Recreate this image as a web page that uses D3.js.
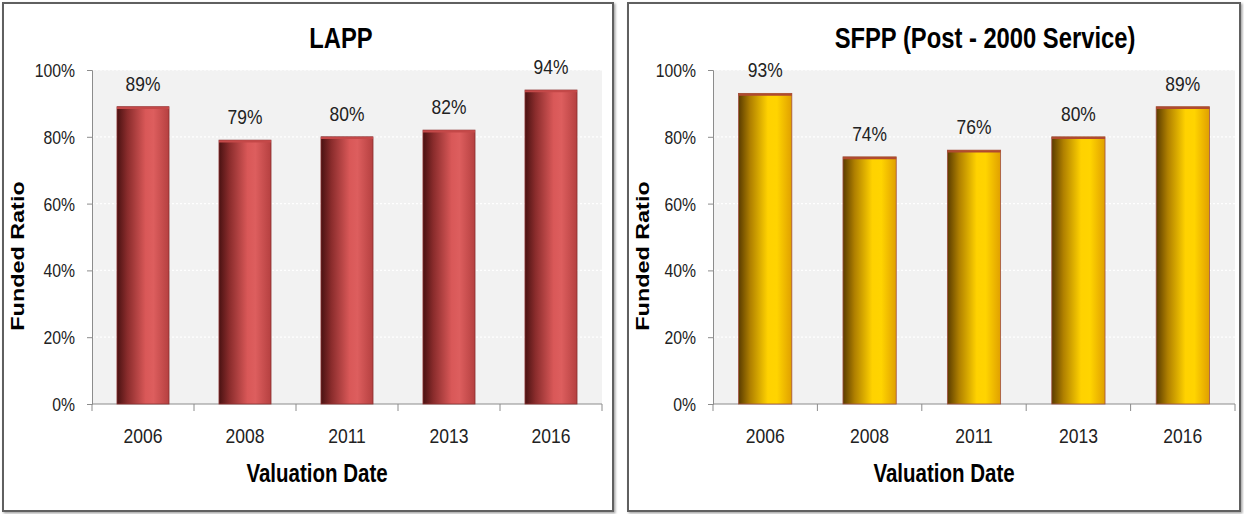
<!DOCTYPE html>
<html><head><meta charset="utf-8">
<script src="https://cdn.jsdelivr.net/npm/d3@7/dist/d3.min.js"></script>
<style>
body{margin:0;background:#fff;}
svg{display:block;}
text{font-family:"Liberation Sans",Arial,sans-serif;}
</style></head>
<body>
<svg id="c" width="1244" height="514"></svg>
<script>
const years = ["2006","2008","2011","2013","2016"];
const lappValues = [0.89, 0.79, 0.80, 0.82, 0.94];
const sfppValues = [0.93, 0.74, 0.76, 0.80, 0.89];
const yTicks = [0, 0.2, 0.4, 0.6, 0.8, 1.0];
const titles = ["LAPP", "SFPP (Post - 2000 Service)"];
const xTitle = "Valuation Date";
const yTitle = "Funded Ratio";

const svg = d3.select("#c");
const defs = svg.append("defs");
const pct = d3.format(".0%");

function grad(id, stops){
  const g = defs.append("linearGradient").attr("id", id).attr("x1","0%").attr("x2","100%").attr("y1","0%").attr("y2","0%");
  stops.forEach(s => g.append("stop").attr("offset", s[0]).attr("stop-color", s[1]));
}
grad("redG", [["0%","#4a1212"],["20%","#8a2c2c"],["55%","#d95858"],["70%","#dd5e5e"],["100%","#b54040"]]);
grad("goldG", [["0%","#5a3c00"],["22%","#b08000"],["55%","#ffd200"],["72%","#ffd400"],["100%","#e0a000"]]);

const shadow = defs.append("filter").attr("id","sh").attr("x","-5%").attr("y","-5%").attr("width","110%").attr("height","110%");
shadow.append("feDropShadow").attr("dx",1.5).attr("dy",1.5).attr("stdDeviation",1.2).attr("flood-color","#000").attr("flood-opacity",0.35);

function txt(g, x, y, s, size, sx, opts={}){
  return g.append("text")
    .attr("transform", `translate(${x},${y})${opts.rot ? " rotate(-90)" : ""} scale(${sx},1)`)
    .attr("text-anchor", opts.anchor || "middle")
    .attr("font-size", size).attr("font-weight", opts.bold ? "bold" : "normal")
    .attr("fill", opts.fill || "#222").text(s);
}

function panel(cfg){
  const g = svg.append("g");
  g.append("rect").attr("x", cfg.fx).attr("y", cfg.fy).attr("width", cfg.fw).attr("height", cfg.fh)
    .attr("fill","#fff").attr("stroke","#606060").attr("stroke-width",2).attr("filter","url(#sh)");

  const x = d3.scaleBand().domain(years).range([cfg.x0, cfg.x1]).paddingInner(0.49).paddingOuter(0.245);
  const y = d3.scaleLinear().domain([0,1]).range([404, 70]);

  g.append("rect").attr("x", cfg.x0).attr("y", y(1)).attr("width", cfg.x1-cfg.x0).attr("height", y(0)-y(1)).attr("fill","#f2f2f2");

  g.append("g").selectAll("line").data(yTicks.filter(t=>t>0)).join("line")
    .attr("x1", cfg.x0).attr("x2", cfg.x1).attr("y1", d=>y(d)).attr("y2", d=>y(d))
    .attr("stroke","#ffffff").attr("stroke-width",1.2).attr("stroke-dasharray","2,2");

  const ya = g.append("g").attr("transform", `translate(${cfg.x0},0)`)
    .call(d3.axisLeft(y).tickValues(yTicks).tickSize(5));
  ya.select(".domain").attr("stroke","#8c8c8c");
  ya.selectAll(".tick line").attr("stroke","#8c8c8c");
  ya.selectAll("text").remove();
  yTicks.forEach(t => txt(g, cfg.x0-17, y(t)+7, pct(t), 19, 0.83, {anchor:"end"}));

  const xa = g.append("g").attr("transform", `translate(0,${y(0)})`)
    .call(d3.axisBottom(x).tickSize(0));
  xa.select(".domain").attr("stroke","#8c8c8c").attr("d", `M${cfg.x0},0H${cfg.x1}`);
  xa.selectAll("text").remove();
  years.forEach(yr => txt(g, x(yr)+x.bandwidth()/2, 443, yr, 21, 0.835));
  const step = x.step();
  const bounds = d3.range(years.length+1).map(i => cfg.x0 + i*step);
  g.append("g").selectAll("line").data(bounds).join("line")
    .attr("x1", d=>d).attr("x2", d=>d).attr("y1", y(0)).attr("y2", y(0)+7).attr("stroke","#8c8c8c");

  g.append("g").selectAll("rect").data(cfg.values).join("rect")
    .attr("x", (d,i)=>x(years[i])).attr("width", x.bandwidth())
    .attr("y", d=>y(d)).attr("height", d=>y(0)-y(d))
    .attr("fill", `url(#${cfg.grad})`).attr("stroke", cfg.stroke).attr("stroke-width",0.8);
  g.append("g").selectAll("line").data(cfg.values).join("line")
    .attr("x1", (d,i)=>x(years[i])).attr("x2", (d,i)=>x(years[i])+x.bandwidth())
    .attr("y1", d=>y(d)+1.2).attr("y2", d=>y(d)+1.2)
    .attr("stroke", cfg.topc).attr("stroke-width",2.2);

  cfg.values.forEach((v,i) => txt(g, x(years[i])+x.bandwidth()/2, y(v)-16, pct(v), 21, 0.83));

  txt(g, cfg.tx, 48, cfg.title, 29, 0.82, {bold:true, fill:"#000"});
  txt(g, cfg.vx, 482, xTitle, 25, 0.82, {bold:true, fill:"#000"});
  txt(g, cfg.fx+21, 256, yTitle, 18, 1.3, {bold:true, fill:"#000", rot:true});
}

panel({fx:3, fy:3, fw:610, fh:508, x0:92, x1:602, values:lappValues, grad:"redG", stroke:"#8a3030", topc:"#c44848", title:titles[0], tx:341, vx:317});
panel({fx:628, fy:3, fw:612, fh:508, x0:713, x1:1235, values:sfppValues, grad:"goldG", stroke:"#a05040", topc:"#b04a30", title:titles[1], tx:985, vx:944});
</script>
</body></html>
